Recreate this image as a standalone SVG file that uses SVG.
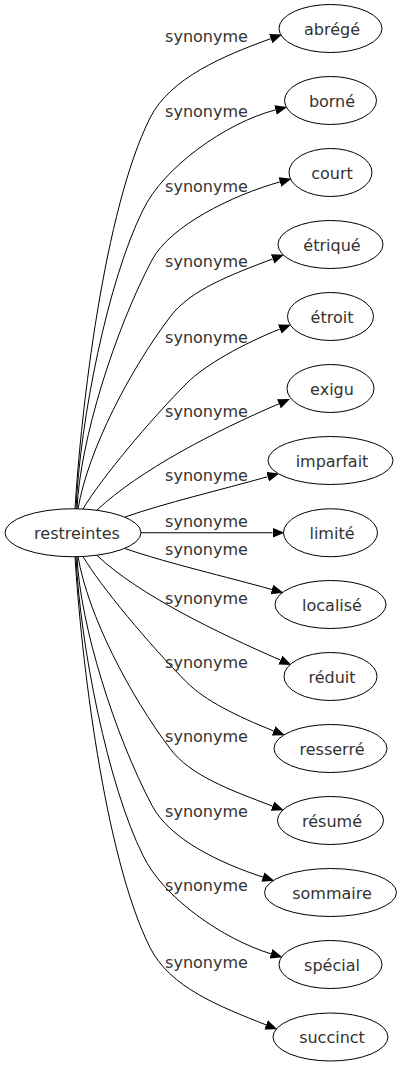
<svg xmlns="http://www.w3.org/2000/svg" width="402" height="1067" viewBox="0 0 402 1067">
<style>
.n ellipse{fill:#fff;stroke:#000;stroke-width:1}
.n text{font-family:"DejaVu Sans",sans-serif;font-size:16px;fill:#333;text-anchor:middle}
.e path{fill:none;stroke:#000;stroke-width:1;marker-end:url(#arr)}
.lb text{font-family:"DejaVu Sans",sans-serif;font-size:16px;fill:#333;text-anchor:middle}
</style>
<defs>
<marker id="arr" markerUnits="userSpaceOnUse" markerWidth="12" markerHeight="10" viewBox="0 0 11 9" refX="0" refY="4.5" orient="auto">
<path d="M0,0 L11,4.5 L0,9 z" fill="#000"/>
</marker>
</defs>
<rect width="402" height="1067" fill="#fff"/>
<g id="edges" class="e">
<path d="M75,509 C81,410 104,210 150,118 C170,78 223.7,55.7 270.7,38.7"/>
<path d="M76,509 C80,420 108,280 143,210 C163,168 225,123 275.5,109.9"/>
<path d="M77,509 C80,440 115,330 152,260 C170,226 231.8,195.4 279.9,181.9"/>
<path d="M78,509 C88,450 130,370 170,317 C190,290 230.6,274.9 272.7,258.9"/>
<path d="M83,509 C100,480 150,420 187,383 C205,365 242.7,343.9 279.8,329.1"/>
<path d="M97,510 C140,470 214.6,431.4 278.9,403.8"/>
<path d="M125,517 C165,503 221.5,489.7 267.7,476.7"/>
<path d="M141,532.75 L272.5,532.75"/>
<path d="M125,548.5 C165,562.5 227.6,577.1 271.9,589.5"/>
<path d="M97,555.5 C140,595.5 216.4,632.1 280.4,660.1"/>
<path d="M83,556.5 C100,585.5 150,645.5 187,682.5 C205,700.5 236.5,716.1 273.6,730.9"/>
<path d="M78,556.5 C88,615.5 130,695.5 170,748.5 C190,775.5 230.4,790.1 272.5,806.1"/>
<path d="M77,556.5 C80,625.5 115,735.5 152,805.5 C170,839.5 220.1,863.1 262.9,877.1"/>
<path d="M76,556.5 C80,645.5 108,785.5 143,855.5 C163,897.5 223.1,939.3 271,953.8"/>
<path d="M75,556.5 C81,655.5 104,855.5 150,947.5 C170,987.5 219.6,1006.4 266.1,1024.9"/>
</g>
<g id="labels" class="lb">
<text x="206.5" y="42">synonyme</text>
<text x="206.5" y="117">synonyme</text>
<text x="206.5" y="192">synonyme</text>
<text x="206.5" y="267">synonyme</text>
<text x="206.5" y="343">synonyme</text>
<text x="206.5" y="417">synonyme</text>
<text x="206.5" y="481">synonyme</text>
<text x="206.5" y="527">synonyme</text>
<text x="206.5" y="555">synonyme</text>
<text x="206.5" y="604">synonyme</text>
<text x="206.5" y="668">synonyme</text>
<text x="206.5" y="742">synonyme</text>
<text x="206.5" y="817">synonyme</text>
<text x="206.5" y="891">synonyme</text>
<text x="206.5" y="968">synonyme</text>
</g>
<g id="n-restreintes" class="n"><ellipse cx="73" cy="532.75" rx="68" ry="24"/><text x="77" y="539">restreintes</text></g>
<g id="n-abrege" class="n"><ellipse cx="330.5" cy="28.5" rx="51.5" ry="24"/><text x="332" y="34.5">abrégé</text></g>
<g id="n-borne" class="n"><ellipse cx="330.5" cy="100.5" rx="46" ry="24"/><text x="332" y="106.5">borné</text></g>
<g id="n-court" class="n"><ellipse cx="330.5" cy="172.5" rx="41.5" ry="24"/><text x="332" y="178.5">court</text></g>
<g id="n-etrique" class="n"><ellipse cx="330.5" cy="244.5" rx="52.5" ry="24"/><text x="332" y="250.5">étriqué</text></g>
<g id="n-etroit" class="n"><ellipse cx="330.5" cy="316.5" rx="43" ry="24"/><text x="332" y="322.5">étroit</text></g>
<g id="n-exigu" class="n"><ellipse cx="330.5" cy="388.5" rx="43.5" ry="24"/><text x="332" y="394.5">exigu</text></g>
<g id="n-imparfait" class="n"><ellipse cx="330.5" cy="460.5" rx="62.5" ry="24"/><text x="332" y="466.5">imparfait</text></g>
<g id="n-limite" class="n"><ellipse cx="330.5" cy="532.75" rx="47" ry="24"/><text x="332" y="538.75">limité</text></g>
<g id="n-localise" class="n"><ellipse cx="330.5" cy="604.5" rx="55.5" ry="24"/><text x="332" y="610.5">localisé</text></g>
<g id="n-reduit" class="n"><ellipse cx="330.5" cy="676.5" rx="46.5" ry="24"/><text x="332" y="682.5">réduit</text></g>
<g id="n-resserre" class="n"><ellipse cx="330.5" cy="748.5" rx="56.5" ry="24"/><text x="332" y="754.5">resserré</text></g>
<g id="n-resume" class="n"><ellipse cx="330.5" cy="820.5" rx="53" ry="24"/><text x="332" y="826.5">résumé</text></g>
<g id="n-sommaire" class="n"><ellipse cx="330.5" cy="892.5" rx="66" ry="24"/><text x="332" y="898.5">sommaire</text></g>
<g id="n-special" class="n"><ellipse cx="330.5" cy="964.5" rx="51.5" ry="24"/><text x="332" y="970.5">spécial</text></g>
<g id="n-succinct" class="n"><ellipse cx="330.5" cy="1037" rx="57.5" ry="24"/><text x="332" y="1043">succinct</text></g>
</svg>
